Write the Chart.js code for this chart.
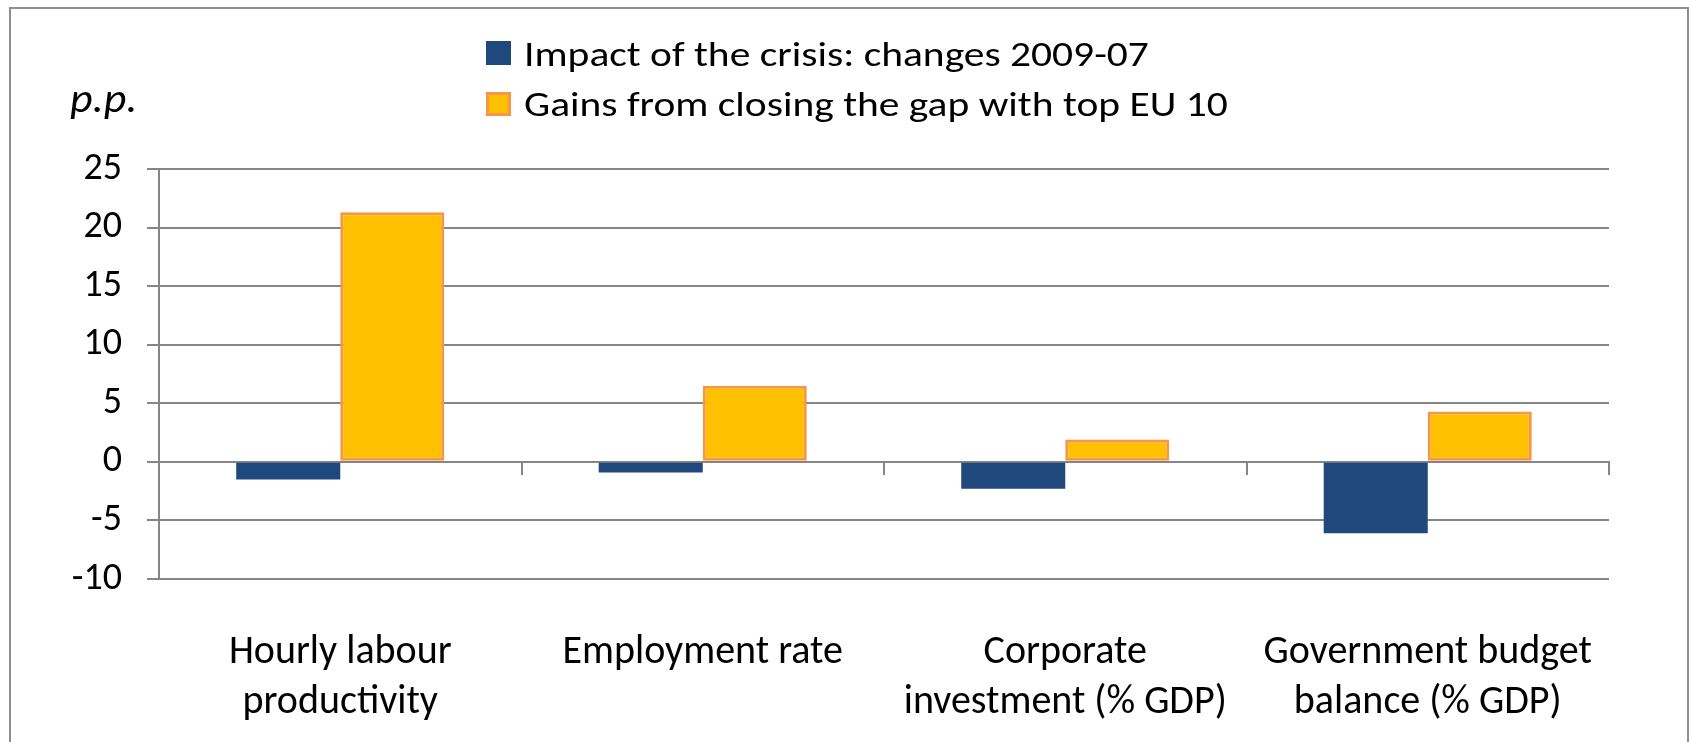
<!DOCTYPE html>
<html>
<head>
<meta charset="utf-8">
<script src="https://cdn.jsdelivr.net/npm/chart.js@4.4.1/dist/chart.umd.min.js"></script>
<style>
  body { margin: 0; background: #fff; overflow: hidden; }
  #frame { position: absolute; left: 9px; top: 7px; width: 1676px; height: 800px; border: 2px solid #8e8e8e; }
  #wrap { position: absolute; left: 0; top: 0; width: 1690px; height: 742px; }
</style>
</head>
<body>
<div id="frame"></div>
<div id="wrap"><canvas id="myChart" width="1690" height="742"></canvas></div>
<script>
const categories = [
    ['Hourly labour', 'productivity'],
    'Employment rate',
    ['Corporate', 'investment (% GDP)'],
    ['Government budget', 'balance (% GDP)']
];
const crisisImpact = [-1.5, -0.9, -2.3, -6.1];   // changes 2009-07
const gapGains = [21.3, 6.5, 1.9, 4.3];          // closing the gap with top EU 10
const yTicks = [-10, -5, 0, 5, 10, 15, 20, 25];
const unitLabel = 'p.p.';

const FONT = "Carlito, Calibri, 'Liberation Sans', sans-serif";
const GRID = '#868686';

// text a bit wider than the font, like the original export
function wideText(c, txt, x, y, sx) {
    c.save();
    c.translate(x, y);
    c.scale(sx, 1);
    c.fillText(txt, 0, 0);
    c.restore();
}

// legend + unit label, drawn by hand so both rows start at the same x
const excelLegend = {
    id: 'excelLegend',
    afterDraw(chart) {
        const c = chart.ctx;
        c.save();
        c.font = 'italic 40px ' + FONT;
        c.fillStyle = '#000';
        c.textBaseline = 'alphabetic';
        wideText(c, unitLabel, 70, 112, 1.1);

        c.font = '34px ' + FONT;
        const rows = [{ box: 41, base: 66 }, { box: 92, base: 116 }];
        chart.data.datasets.forEach((ds, i) => {
            const r = rows[i];
            c.fillStyle = ds.backgroundColor;
            c.fillRect(486, r.box, 25, 24);
            if (ds.borderWidth) {
                c.strokeStyle = ds.borderColor;
                c.lineWidth = 3;
                c.strokeRect(487.5, r.box + 1.5, 22, 21);
            }
            c.fillStyle = '#000';
            wideText(c, ds.label, 524, r.base, 1.22);
        });
        c.restore();
    }
};

const ctx = document.getElementById('myChart').getContext('2d');
new Chart(ctx, {
    type: 'bar',
    data: {
        labels: categories,
        datasets: [{
            label: 'Impact of the crisis: changes 2009-07',
            data: crisisImpact,
            backgroundColor: '#1F497D',
            borderWidth: 0
        }, {
            label: 'Gains from closing the gap with top EU 10',
            data: gapGains,
            backgroundColor: '#FFC000',
            borderColor: '#F79646',
            borderWidth: 3,
            borderSkipped: false
        }]
    },
    options: {
        responsive: false,
        animation: false,
        devicePixelRatio: 1,
        layout: { padding: { top: 169, right: 81, bottom: 0, left: 0 } },
        datasets: { bar: { barPercentage: 1, categoryPercentage: 0.574 } },
        plugins: {
            legend: { display: false },
            tooltip: { enabled: false }
        },
        scales: {
            x: {
                grid: { display: false, drawTicks: false },
                border: { display: false },
                ticks: {
                    padding: 49,
                    maxRotation: 0,
                    autoSkip: false,
                    color: '#000',
                    font: { family: FONT, size: 40, lineHeight: 1.25 }
                },
                afterFit(s) { s.height = 163; }
            },
            zero: {
                type: 'category',
                axis: 'x',
                position: { y: 0 },
                offset: true,
                grid: { offset: true, drawOnChartArea: false, drawTicks: true, tickLength: 12, color: GRID, lineWidth: 2 },
                border: { display: true, color: GRID, width: 2 },
                ticks: { display: false }
            },
            y: {
                min: -10,
                max: 25,
                afterBuildTicks(s) { s.ticks = yTicks.map(v => ({ value: v })); },
                grid: { color: GRID, lineWidth: 2, tickLength: 12 },
                border: { color: GRID, width: 2 },
                ticks: {
                    padding: 25,
                    color: '#000',
                    font: { family: FONT, size: 38 }
                },
                afterFit(s) { s.width = 159; }
            }
        }
    },
    plugins: [excelLegend]
});
</script>
</body>
</html>
